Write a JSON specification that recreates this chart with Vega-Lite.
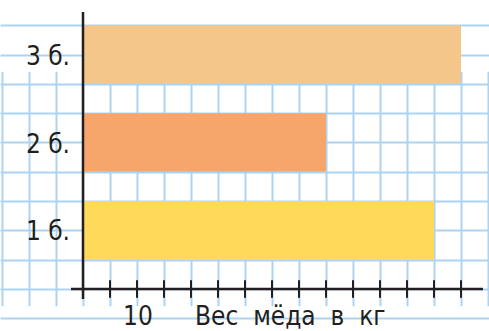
{
  "$schema": "https://vega.github.io/schema/vega-lite/v6.json",
  "width": 489,
  "height": 331,
  "padding": 0,
  "autosize": "none",
  "background": "white",
  "config": {"view": {"stroke": null}},
  "layer": [
    {
      "data": {"values": [
        {"barrel": "3 б.", "kg": 70},
        {"barrel": "2 б.", "kg": 45},
        {"barrel": "1 б.", "kg": 65}
      ]},
      "layer": [
        {
          "mark": {"type": "bar"},
          "encoding": {
            "y": {"field": "barrel", "type": "nominal", "sort": ["3 б.", "2 б.", "1 б."], "scale": {"range": [25.3, 259.7], "paddingInner": 0.3333, "paddingOuter": 0}, "axis": null},
            "x": {"field": "kg", "type": "quantitative", "scale": {"domain": [-15.37, 75.185], "nice": false, "zero": false}, "axis": {"grid": true, "values": [-15, -10, -5, 0, 5, 10, 15, 20, 25, 30, 35, 40, 45, 50, 55, 60, 65, 70, 75], "labels": false, "ticks": false, "domain": false, "title": null, "gridColor": "#ADD3F2", "gridWidth": 2, "gridOpacity": 1}},
            "x2": {"datum": 0},
            "color": {"field": "barrel", "type": "nominal", "scale": {"domain": ["3 б.", "2 б.", "1 б."], "range": ["#F5C68A", "#F7A66B", "#FED95A"]}, "legend": null}
          }
        },
        {
          "mark": {"type": "text", "align": "right", "baseline": "middle", "dy": 2, "font": "DejaVu Sans Condensed, Roboto, sans-serif", "fontSize": 26, "color": "#231F20"},
          "encoding": {
            "y": {"field": "barrel", "type": "nominal", "sort": ["3 б.", "2 б.", "1 б."], "axis": null},
            "x": {"datum": -2.4, "axis": {"grid": true, "values": [-15, -10, -5, 0, 5, 10, 15, 20, 25, 30, 35, 40, 45, 50, 55, 60, 65, 70, 75], "labels": false, "ticks": false, "domain": false, "title": null, "gridColor": "#ADD3F2", "gridWidth": 2, "gridOpacity": 1}},
            "text": {"field": "barrel"}
          }
        }
      ]
    },
    {
      "layer": [
        {
          "data": {"values": [{"kg": 0}, {"kg": 5}, {"kg": 10}, {"kg": 15}, {"kg": 20}, {"kg": 25}, {"kg": 30}, {"kg": 35}, {"kg": 40}, {"kg": 45}, {"kg": 50}, {"kg": 55}, {"kg": 60}, {"kg": 65}, {"kg": 70}]},
          "mark": {"type": "rule", "strokeWidth": 2, "color": "#231F20"},
          "encoding": {
            "x": {"field": "kg", "type": "quantitative", "axis": {"grid": true, "values": [-15, -10, -5, 0, 5, 10, 15, 20, 25, 30, 35, 40, 45, 50, 55, 60, 65, 70, 75], "labels": false, "ticks": false, "domain": false, "title": null, "gridColor": "#ADD3F2", "gridWidth": 2, "gridOpacity": 1}},
            "y": {"datum": 0.3, "scale": {"domain": [-1.433, 9.863], "nice": false, "zero": false}, "axis": {"grid": true, "values": [-1, 0, 1, 2, 3, 4, 5, 6, 7, 8, 9], "labels": false, "ticks": false, "domain": false, "title": null, "gridColor": "#ADD3F2", "gridWidth": 2, "gridOpacity": 1}},
            "y2": {"datum": -0.3}
          }
        },
        {
          "data": {"values": [{}]},
          "mark": {"type": "rule", "strokeWidth": 2.5, "color": "#231F20"},
          "encoding": {
            "x": {"datum": -2.22, "axis": {"grid": true, "values": [-15, -10, -5, 0, 5, 10, 15, 20, 25, 30, 35, 40, 45, 50, 55, 60, 65, 70, 75], "labels": false, "ticks": false, "domain": false, "title": null, "gridColor": "#ADD3F2", "gridWidth": 2, "gridOpacity": 1}},
            "x2": {"datum": 74.07},
            "y": {"datum": 0, "axis": {"grid": true, "values": [-1, 0, 1, 2, 3, 4, 5, 6, 7, 8, 9], "labels": false, "ticks": false, "domain": false, "title": null, "gridColor": "#ADD3F2", "gridWidth": 2, "gridOpacity": 1}}
          }
        },
        {
          "data": {"values": [{}]},
          "mark": {"type": "rule", "strokeWidth": 2.5, "color": "#231F20"},
          "encoding": {
            "x": {"datum": 0, "axis": {"grid": true, "values": [-15, -10, -5, 0, 5, 10, 15, 20, 25, 30, 35, 40, 45, 50, 55, 60, 65, 70, 75], "labels": false, "ticks": false, "domain": false, "title": null, "gridColor": "#ADD3F2", "gridWidth": 2, "gridOpacity": 1}},
            "y": {"datum": 9.45, "axis": {"grid": true, "values": [-1, 0, 1, 2, 3, 4, 5, 6, 7, 8, 9], "labels": false, "ticks": false, "domain": false, "title": null, "gridColor": "#ADD3F2", "gridWidth": 2, "gridOpacity": 1}},
            "y2": {"datum": -0.34}
          }
        },
        {
          "data": {"values": [{"label": "10", "kg": 10}]},
          "mark": {"type": "text", "align": "center", "baseline": "alphabetic", "font": "DejaVu Sans Condensed, Roboto, sans-serif", "fontSize": 26, "color": "#231F20", "dx": 1},
          "encoding": {
            "x": {"field": "kg", "type": "quantitative", "axis": {"grid": true, "values": [-15, -10, -5, 0, 5, 10, 15, 20, 25, 30, 35, 40, 45, 50, 55, 60, 65, 70, 75], "labels": false, "ticks": false, "domain": false, "title": null, "gridColor": "#ADD3F2", "gridWidth": 2, "gridOpacity": 1}},
            "y": {"datum": -1.23, "axis": {"grid": true, "values": [-1, 0, 1, 2, 3, 4, 5, 6, 7, 8, 9], "labels": false, "ticks": false, "domain": false, "title": null, "gridColor": "#ADD3F2", "gridWidth": 2, "gridOpacity": 1}},
            "text": {"field": "label"}
          }
        },
        {
          "data": {"values": [{"title": "Вес\u00a0\u00a0мёда\u00a0\u00a0в\u00a0\u00a0кг"}]},
          "mark": {"type": "text", "align": "left", "baseline": "alphabetic", "font": "DejaVu Sans Condensed, Roboto, sans-serif", "fontSize": 26, "color": "#231F20"},
          "encoding": {
            "x": {"datum": 20.74, "axis": {"grid": true, "values": [-15, -10, -5, 0, 5, 10, 15, 20, 25, 30, 35, 40, 45, 50, 55, 60, 65, 70, 75], "labels": false, "ticks": false, "domain": false, "title": null, "gridColor": "#ADD3F2", "gridWidth": 2, "gridOpacity": 1}},
            "y": {"datum": -1.23, "axis": {"grid": true, "values": [-1, 0, 1, 2, 3, 4, 5, 6, 7, 8, 9], "labels": false, "ticks": false, "domain": false, "title": null, "gridColor": "#ADD3F2", "gridWidth": 2, "gridOpacity": 1}},
            "text": {"field": "title"}
          }
        }
      ]
    }
  ],
  "resolve": {"scale": {"y": "independent"}}
}
